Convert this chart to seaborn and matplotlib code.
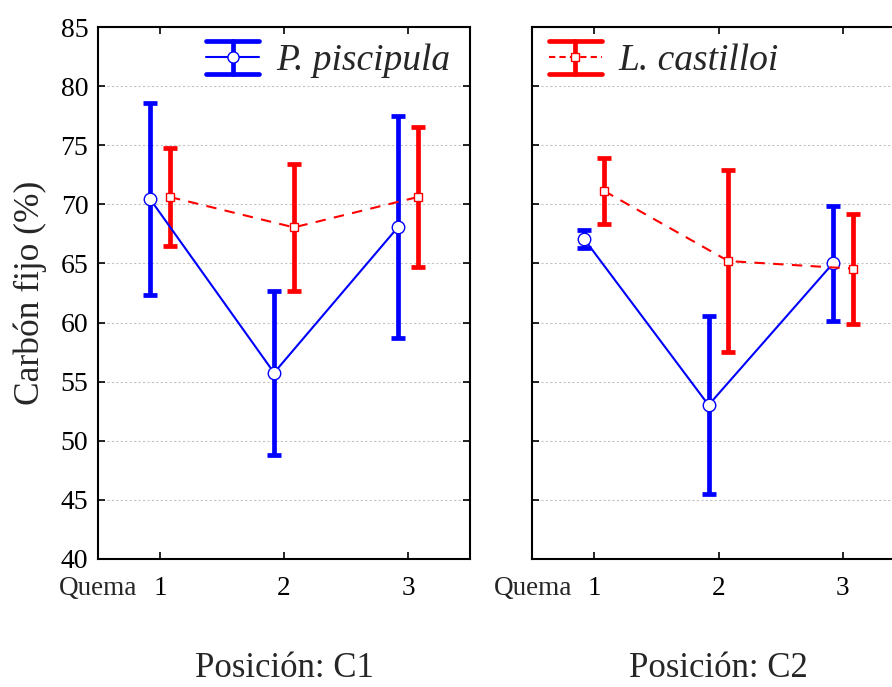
import seaborn as sns
import matplotlib.pyplot as plt
from matplotlib.legend_handler import HandlerBase
from matplotlib.lines import Line2D
from matplotlib.transforms import blended_transform_factory

# data (mean and +/- error per quema)
quema = [1, 2, 3]
pisc_c1 = [70.45, 55.75, 68.08]
pisc_c1_err = [8.1, 6.95, 9.4]
cast_c1 = [70.62, 68.05, 70.62]
cast_c1_err = [4.17, 5.38, 5.96]
pisc_c2 = [67.06, 53.02, 65.0]
pisc_c2_err = [0.76, 7.5, 4.83]
cast_c2 = [71.13, 65.2, 64.56]
cast_c2_err = [2.8, 7.7, 4.64]

blue = "#0000ff"
red = "#ff0000"

sns.set_style("ticks")
plt.rcParams['font.family'] = ['Liberation Serif', 'DejaVu Serif']


class ErrbarHandler(HandlerBase):
    def __init__(self, color, ls, marker, ms):
        super().__init__()
        self.color = color
        self.ls = ls
        self.marker = marker
        self.ms = ms

    def create_artists(self, legend, orig_handle, xdescent, ydescent,
                       width, height, fontsize, trans):
        x0 = -xdescent
        x1 = x0 + width
        xm = (x0 + x1) / 2
        ym = height / 2 - ydescent
        h = height * 0.63
        c = self.color
        arts = [
            Line2D([x0, x1], [ym, ym], color=c, lw=1.5, ls=self.ls),
            Line2D([x0, x1], [ym + h, ym + h], color=c, lw=3.4),
            Line2D([x0, x1], [ym - h, ym - h], color=c, lw=3.4),
            Line2D([xm, xm], [ym - h, ym + h], color=c, lw=3.4),
            Line2D([xm], [ym], marker=self.marker, ms=self.ms, mfc="white",
                   mec=c, mew=1, ls="none"),
        ]
        for a in arts:
            a.set_transform(trans)
        return arts


fig = plt.figure(figsize=(8.92, 6.87), dpi=100)
ax1 = fig.add_axes([98 / 892, 1 - 559 / 687, 372 / 892, 532 / 687])
ax2 = fig.add_axes([532 / 892, 1 - 559 / 687, 373 / 892, 532 / 687], sharey=ax1)

series = [
    (ax1, pisc_c1, pisc_c1_err, cast_c1, cast_c1_err, "Posición: C1"),
    (ax2, pisc_c2, pisc_c2_err, cast_c2, cast_c2_err, "Posición: C2"),
]

for ax, pm, pe, cm, ce, title in series:
    for off, mean, err, color, marker, ls, ms in [
        (-0.08, pm, pe, blue, "o", "-", 9),
        (0.08, cm, ce, red, "s", (0, (5, 4)), 6),
    ]:
        xs = [q + off for q in quema]
        ax.errorbar(xs, mean, yerr=err, fmt="none", ecolor=color,
                    elinewidth=3.4, capsize=4.7, capthick=3.4, zorder=2)
        sns.lineplot(x=xs, y=mean, ax=ax, color=color, linestyle=ls, lw=1.5,
                     marker=marker, ms=ms, mfc="white", mec=color, mew=1,
                     zorder=3)

    ax.set_xlim(0.5, 3.5)
    ax.set_ylim(40, 85)
    ax.set_xticks(quema)
    ax.set_yticks(range(40, 90, 5))
    ax.yaxis.grid(True, linestyle=(0, (2, 2)), color="#c4c4c4", lw=0.8)
    ax.set_axisbelow(True)
    ax.tick_params(direction="in", top=True, right=True, length=5, width=1.2,
                   colors="black")
    ax.tick_params(axis="x", labelsize=19.5, pad=12)
    ax.tick_params(axis="y", labelsize=20, pad=7)
    for s in ax.spines.values():
        s.set_visible(True)
        s.set_linewidth(1.5)
        s.set_color("black")
    ax.set_xlabel(title, fontsize=25, labelpad=37)
    ax.set_ylabel("")
    trans = blended_transform_factory(ax.transData, ax.transAxes)
    ax.text(0.82, -0.0318, "Quema", transform=trans, ha="right", va="top",
            fontsize=19.5)

ax2.tick_params(axis="y", labelleft=False)
ax1.set_ylabel("Carbón fijo (%)", fontsize=25.5, labelpad=10)

h1 = Line2D([], [])
ax1.legend(handles=[h1], labels=["P. piscipula"],
           handler_map={h1: ErrbarHandler(blue, "-", "o", 8)},
           loc="center right", bbox_to_anchor=(1 - 20 / 372, 1 - 34 / 532),
           frameon=False, prop={"style": "italic", "size": 27},
           handlelength=1.41, handletextpad=0.45,
           borderpad=0, borderaxespad=0)
h2 = Line2D([], [])
ax2.legend(handles=[h2], labels=["L. castilloi"],
           handler_map={h2: ErrbarHandler(red, (0, (3, 2)), "s", 6)},
           loc="center left", bbox_to_anchor=(17 / 373, 1 - 34 / 532),
           frameon=False, prop={"style": "italic", "size": 27},
           handlelength=1.41, handletextpad=0.45,
           borderpad=0, borderaxespad=0)

fig.savefig("out.png", dpi=100)
